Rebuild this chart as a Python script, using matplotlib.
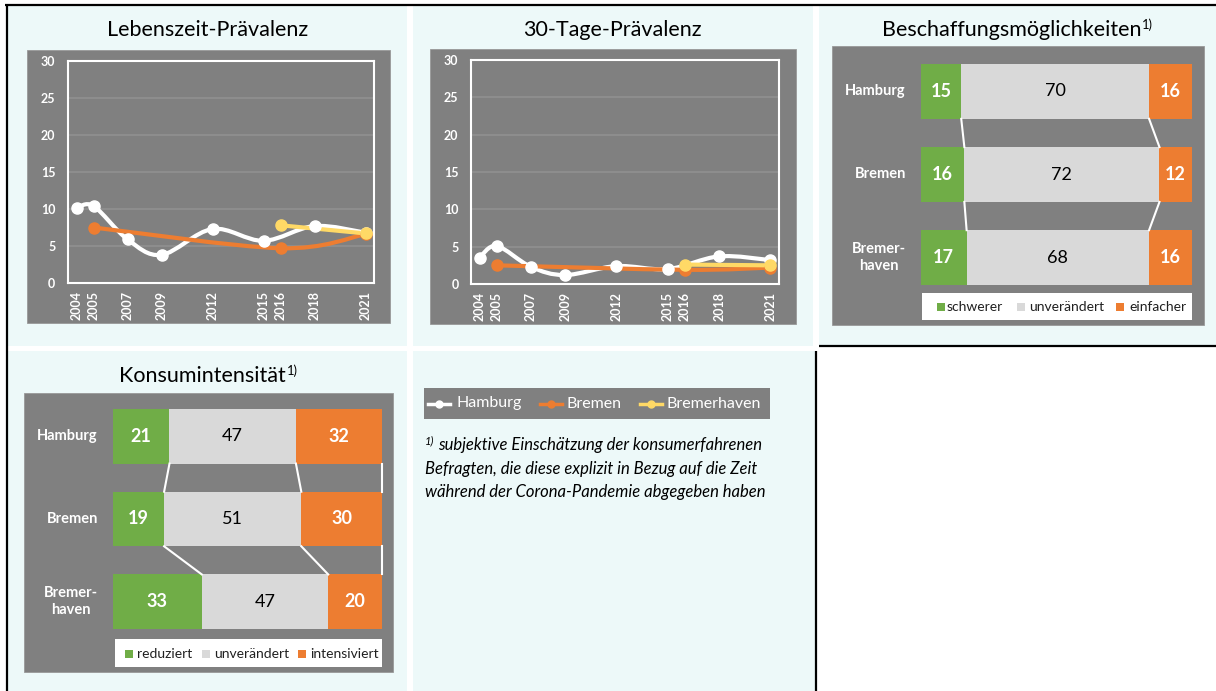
import matplotlib
matplotlib.use('Agg')
import matplotlib.pyplot as plt
from matplotlib.patches import Rectangle, PathPatch
from matplotlib.path import Path
import numpy as np

FONT = ['Lato', 'DejaVu Sans']
plt.rcParams['font.family'] = FONT

# ---------------- data ----------------
tick_years = [2004, 2005, 2007, 2009, 2012, 2015, 2016, 2018, 2021]
years_hamburg = [2004, 2005, 2007, 2009, 2012, 2015, 2018, 2021]
years_bremen = [2005, 2016, 2021]
years_bremerhaven = [2016, 2021]

life_hamburg = [10.1, 10.4, 5.9, 3.8, 7.3, 5.7, 7.7, 6.8]
life_bremen = [7.5, 4.7, 6.6]
life_bremerhaven = [7.8, 6.7]

month_hamburg = [3.5, 5.1, 2.3, 1.2, 2.4, 2.0, 3.7, 3.2]
month_bremen = [2.5, 1.9, 2.2]
month_bremerhaven = [2.6, 2.5]

cities = ['Hamburg', 'Bremen', 'Bremer-\nhaven']
series_names = ['Hamburg', 'Bremen', 'Bremerhaven']

supply_labels = ['schwerer', 'unverändert', 'einfacher']
supply_harder = [15, 16, 17]
supply_same = [70, 72, 68]
supply_easier = [16, 12, 16]

intensity_labels = ['reduziert', 'unverändert', 'intensiviert']
intensity_reduced = [21, 19, 33]
intensity_same = [47, 51, 47]
intensity_more = [32, 30, 20]

# ---------------- style ----------------
W, H = 1216, 691
CELL = '#EDF9F9'
GRAY = '#808080'
GRID = '#8F8F8F'
GREEN = '#70AD47'
LGRAY = '#D9D9D9'
ORANGE = '#ED7D31'
YELLOW = '#FFD966'

fig = plt.figure(figsize=(W / 100, H / 100), dpi=100)
fig.patch.set_facecolor('white')


def rect_px(x0, y0, x1, y1, color, z=0, ec='none', lw=0):
    fig.add_artist(Rectangle((x0 / W, 1 - y1 / H), (x1 - x0) / W, (y1 - y0) / H,
                             transform=fig.transFigure, facecolor=color,
                             edgecolor=ec, lw=lw, zorder=z))


def line_px(x0, y0, x1, y1, color='black', lw=1.5, z=5):
    fig.add_artist(plt.Line2D([x0 / W, x1 / W], [1 - y0 / H, 1 - y1 / H],
                              transform=fig.transFigure, color=color, lw=lw,
                              zorder=z, solid_capstyle='butt'))


def text_px(x, y, s, **kw):
    return fig.text(x / W, 1 - y / H, s, **kw)


def axes_px(x0, y0, x1, y1):
    return fig.add_axes([x0 / W, 1 - y1 / H, (x1 - x0) / W, (y1 - y0) / H])


# table cells
rect_px(8, 6, 407, 346, CELL)
rect_px(413, 6, 813, 346, CELL)
rect_px(819, 6, 1216, 346, CELL)
rect_px(8, 351, 407, 691, CELL)
rect_px(413, 351, 815, 691, CELL)
line_px(5, 5, 1216, 5, lw=1.6)
line_px(6.5, 4, 6.5, 691, lw=1.6)
line_px(819, 346, 1216, 346, lw=1.6)
line_px(816, 351, 816, 691, lw=1.6)

renderer = fig.canvas.get_renderer()


def title_px(cx, cy, main, sup=None, size=15.5):
    t = text_px(cx, cy, main, fontsize=size, ha='left', va='center', color='black')
    w_main = t.get_window_extent(renderer).width
    w_sup = 0
    s = None
    if sup:
        s = text_px(0, 0, sup, fontsize=size * 0.6, ha='left', va='center', color='black')
        w_sup = s.get_window_extent(renderer).width
    left = cx - (w_main + w_sup) / 2
    t.set_position((left / W, 1 - cy / H))
    if s is not None:
        s.set_position(((left + w_main + 1) / W, 1 - (cy - 5) / H))


def smooth_path(xs, ys):
    pts = np.column_stack([xs, ys]).astype(float)
    n = len(pts)
    verts = [pts[0]]
    codes = [Path.MOVETO]
    if n == 2:
        verts.append(pts[1])
        codes.append(Path.LINETO)
        return Path(verts, codes)
    for i in range(n - 1):
        p0 = pts[i - 1] if i > 0 else pts[i]
        p1 = pts[i]
        p2 = pts[i + 1]
        p3 = pts[i + 2] if i + 2 < n else pts[i + 1]
        c1 = p1 + (p2 - p0) / 6.0
        c2 = p2 - (p3 - p1) / 6.0
        verts += [c1, c2, p2]
        codes += [Path.CURVE4] * 3
    return Path(verts, codes)


def line_panel(box, frame, title, title_c, hh, hb, bhv):
    rect_px(*box, GRAY, z=1, ec='#999999', lw=0.6)
    title_px(*title_c, title)
    ax = axes_px(*frame)
    ax.set_zorder(2)
    ax.set_facecolor(GRAY)
    ax.set_xlim(2003.5, 2021.5)
    ax.set_ylim(0, 30)
    ax.set_yticks(range(0, 31, 5))
    ax.set_xticks(tick_years)
    ax.grid(axis='y', color=GRID, lw=1.3)
    ax.set_axisbelow(True)
    for sp in ax.spines.values():
        sp.set_color('white')
        sp.set_linewidth(1.5)
    ax.tick_params(axis='y', length=0, colors='white', labelsize=9, pad=9)
    ax.tick_params(axis='x', length=0, colors='white', labelsize=9, pad=6,
                   labelrotation=90)
    for lab in ax.get_xticklabels() + ax.get_yticklabels():
        lab.set_fontweight('bold')
    for xs, ys, col in [(years_hamburg, hh, 'white'),
                        (years_bremen, hb, ORANGE),
                        (years_bremerhaven, bhv, YELLOW)]:
        ax.add_patch(PathPatch(smooth_path(xs, ys), fill=False, edgecolor=col,
                               lw=3.0, capstyle='round', joinstyle='round'))
        ax.plot(xs, ys, 'o', ms=8, color=col, mec=col, clip_on=False)
    return ax


line_panel((27, 50, 390, 323), (68, 61, 374, 283), 'Lebenszeit-Prävalenz', (208, 30),
           life_hamburg, life_bremen, life_bremerhaven)
line_panel((430, 49, 796, 324), (471, 60, 779, 284), '30-Tage-Prävalenz', (612, 30),
           month_hamburg, month_bremen, month_bremerhaven)


def bar_panel(box, area, title, title_c, segs, leg_labels, cat_right,
              leg_box, leg_sq_x, leg_txt_x, leg_y, right_line):
    rect_px(*box, GRAY, z=1, ec='#999999', lw=0.6)
    title_px(*title_c, title, sup='1)')
    ax = axes_px(*area)
    ax.set_zorder(2)
    ax.patch.set_alpha(0)
    ax.axis('off')
    h = 0.66
    ax.set_ylim(2 + h / 2, -h / 2)
    ax.set_xlim(0, 100)
    vals = np.array(segs, dtype=float).T  # rows = cities
    totals = vals.sum(axis=1)
    norm = vals / totals[:, None] * 100
    cum = np.cumsum(norm, axis=1)
    colors = [GREEN, LGRAY, ORANGE]
    ypos = np.arange(len(cities))
    for k in range(3):
        left = cum[:, k] - norm[:, k]
        ax.barh(ypos, norm[:, k], left=left, height=h, color=colors[k], lw=0)
        for i in range(len(cities)):
            c = left[i] + norm[i, k] / 2
            ax.text(c, ypos[i], f'{int(vals[i, k])}', ha='center', va='center',
                    fontsize=13, color='black' if k == 1 else 'white',
                    fontweight='normal' if k == 1 else 'bold')
    nlines = 3 if right_line else 2
    for k in range(nlines):
        for i in range(len(cities) - 1):
            ax.plot([cum[i, k], cum[i + 1, k]], [ypos[i] + h / 2, ypos[i + 1] - h / 2],
                    color='white', lw=1.5, clip_on=False)
    # category labels (figure coordinates, vertically on bar centres)
    y0, y1 = area[1], area[3]
    span = (2 + h / 2) - (-h / 2)
    for i, c in enumerate(cities):
        ypix = y0 + (ypos[i] + h / 2) / span * (y1 - y0)
        text_px(cat_right, ypix, c, ha='right', va='center', multialignment='center',
                fontsize=10.5, fontweight='bold', color='white', linespacing=1.25,
                zorder=4)
    # legend
    rect_px(*leg_box, 'white', z=3)
    for k in range(3):
        rect_px(leg_sq_x[k], leg_y - 4, leg_sq_x[k] + 8, leg_y + 4, colors[k], z=4)
        text_px(leg_txt_x[k], leg_y, leg_labels[k], fontsize=10, ha='left',
                va='center', color='#202020', zorder=4)


bar_panel((832, 46, 1204, 325), (921, 64, 1192, 285), 'Beschaffungsmöglichkeiten',
          (1017, 30), [supply_harder, supply_same, supply_easier], supply_labels,
          906, (922, 293, 1192, 320), [937, 1017, 1116], [947, 1029, 1129], 306.5,
          False)
bar_panel((24, 393, 393, 672), (113, 409, 382, 629), 'Konsumintensität',
          (208, 376), [intensity_reduced, intensity_same, intensity_more],
          intensity_labels, 98, (115, 639, 382, 667), [125, 202, 298],
          [137, 214, 310], 654, True)

# line legend
rect_px(424, 388, 770, 419, GRAY, z=1)
leg_cols = ['white', ORANGE, YELLOW]
leg_line_x = [(428, 450), (540, 562), (640, 662)]
leg_text_x = [456, 567, 667]
ly = 403.5
for k in range(3):
    xa, xb = leg_line_x[k]
    fig.add_artist(plt.Line2D([xa / W, xb / W], [1 - ly / H, 1 - ly / H],
                              transform=fig.transFigure, color=leg_cols[k], lw=2.5,
                              zorder=3))
    fig.add_artist(plt.Line2D([(xa + xb) / 2 / W], [1 - ly / H],
                              transform=fig.transFigure, color=leg_cols[k],
                              marker='o', ms=5, zorder=4))
    text_px(leg_text_x[k], ly, series_names[k], fontsize=11.5, ha='left',
            va='center', color='white', zorder=4)

# footnote
text_px(425, 441, '1)', fontsize=8, style='italic', ha='left', va='center')
foot = ['subjektive Einschätzung der konsumerfahrenen',
        'Befragten, die diese explizit in Bezug auf die Zeit',
        'während der Corona-Pandemie abgegeben haben']
foot_x = [438, 425, 425]
foot_y = [445, 469, 492]
for s, x, y in zip(foot, foot_x, foot_y):
    text_px(x, y, s, fontsize=12, style='italic', ha='left', va='center',
            color='black')

fig.savefig('out.png', dpi=100, facecolor='white')
